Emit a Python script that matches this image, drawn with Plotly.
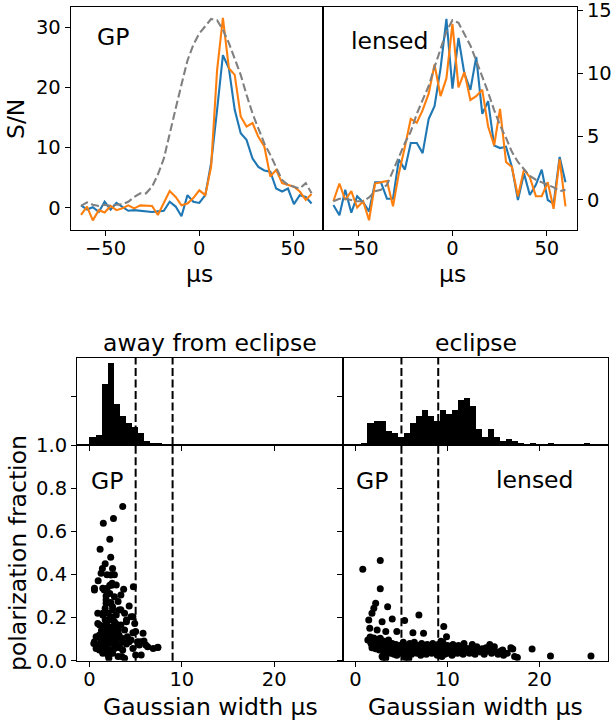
import plotly.graph_objects as go

# ---------------- data ----------------
t_us = [-63.1, -59.9, -56.8, -53.6, -50.5, -47.3, -44.2, -41.0, -37.9, -34.7,
        -31.5, -28.4, -25.2, -22.1, -18.9, -15.8, -12.6, -9.5, -6.3, -3.2,
        0.0, 3.2, 6.3, 9.5, 12.6, 15.8, 18.9, 22.1, 25.2, 28.4,
        31.5, 34.7, 37.9, 41.0, 44.2, 47.3, 50.5, 53.6, 56.8, 59.9]

gp_blue = [0.4, -0.3, 0.1, -0.7, 1.0, -0.3, 0.8, 0.2, -0.5, -0.4,
           -0.5, -0.6, -0.7, -0.6, -0.5, 1.0, 0.2, -1.4, 2.1, 1.0,
           0.8, 2.1, 7.4, 16.3, 25.4, 23.2, 16.3, 12.4, 11.3, 8.2,
           6.8, 6.2, 6.0, 3.2, 2.7, 3.2, 0.6, 2.1, 1.8, 0.7]
gp_orange = [-1.2, 0.2, -2.1, -0.4, -0.8, 0.3, -0.4, -0.1, 0.4, -0.1,
             0.4, 0.4, 0.3, -1.2, 0.7, 2.8, 1.8, 0.4, 0.7, 1.6,
             2.9, 2.1, 6.8, 22.9, 31.6, 23.2, 22.1, 15.2, 13.5, 14.1,
             11.8, 10.2, 5.2, 6.3, 4.1, 3.8, 3.5, 2.7, 1.3, 2.3]
gp_gray = [0.3, 0.9, 0.5, 0.3, 0.5, 0.3, 0.5, 0.6, 1.0, 1.8,
           2.4, 2.4, 3.5, 5.5, 8.2, 12.5, 16.5, 20.5, 24.5, 27.1,
           29.0, 30.2, 31.4, 31.2, 29.6, 27.4, 24.9, 22.1, 18.8, 15.7,
           13.2, 10.7, 8.8, 6.8, 4.6, 3.8, 3.5, 3.2, 4.1, 2.4]

lens_blue = [-0.4, -1.2, 0.8, -1.0, 0.3, -0.2, -0.9, 1.4, 1.4, 0.1,
             0.1, 3.2, 2.4, 4.5, 4.5, 3.7, 6.4, 7.4, 10.4, 14.3,
             8.8, 12.8, 10.0, 8.7, 11.3, 6.8, 7.8, 4.3, 4.1, 4.2,
             2.6, 0.0, 2.1, 0.4, 1.2, 2.4, 0.0, -0.3, 3.4, 1.4]
lens_orange = [-0.1, 1.3, 0.0, 0.7, -0.6, -0.1, -1.6, 1.3, 1.4, 1.5,
               -0.5, 2.1, 4.2, 6.4, 6.1, 7.1, 8.4, 10.7, 8.2, 9.6,
               13.9, 8.9, 10.1, 7.9, 8.2, 8.7, 5.8, 4.3, 7.2, 3.0,
               2.6, 0.3, 2.4, 1.8, 0.3, 0.3, 1.4, -0.7, 3.2, -0.5]
lens_gray = [-0.1, 0.1, 0.1, 0.0, -0.1, -0.1, 0.2, 0.7, 0.8, 1.2,
             2.3, 3.3, 4.5, 5.4, 6.8, 7.9, 9.0, 10.5, 11.9, 13.3,
             14.2, 14.0, 13.1, 12.2, 11.0, 9.8, 8.5, 7.1, 5.9, 4.9,
             3.8, 3.0, 2.4, 1.9, 1.6, 1.4, 1.2, 1.0, 0.7, 0.8]

bin_width = 0.655
hist_away = [4, 5, 31, 42, 21, 15, 11, 9, 6, 2, 1, 1, 0.5]
hist_eclipse = [0, 1, 11, 12, 12, 7, 6, 4, 6, 11, 15, 18, 15, 12, 18, 16, 18, 23,
                24, 20, 8, 4, 8, 4, 2, 3, 2, 1, 0, 1, 0, 0, 1, 0, 0, 0, 0, 0, 1]

away_width = [3.6, 1.5, 2.6, 2.2, 1.15, 2.3, 1.7, 1.4, 2.5, 1.9, 2.7, 0.94, 2.45, 2.9, 3.7,
              4.75, 0.54, 1.44, 1.9, 2.2, 2.7, 1.8, 2.3, 3.1, 4.3, 1.7, 2.5, 3.2, 0.9, 3.8,
              1.44, 2.9, 4.7, 4.0, 2.1, 2.7, 1.1, 1.7, 4.9, 3.4, 2.35, 1.44, 3.8, 2.9, 2.0,
              4.7, 5.8, 0.72, 2.5, 3.2, 4.1, 1.26, 1.8, 2.9, 3.6, 4.5, 5.2, 5.9, 0.47, 1.08,
              2.3, 3.2, 4.0, 5.4, 6.3, 6.9, 7.4, 0.72, 1.6, 2.7, 3.6, 4.7, 5.6, 2.0, 3.1,
              3.8, 2.1, 2.5, 1.44,
              1.26, 2.3, 0.54, 2.4, 1.6, 3.4, 1.8, 2.5, 3.4, 1.44, 2.3, 4.5, 4.0, 0.9,
              2.0, 3.1, 5.0, 1.08, 2.3, 3.5, 0.54, 1.8, 2.9, 4.3, 5.5, 6.1, 7.4, 1.08,
              2.3, 3.5, 5.0,
              1.6, 1.9, 2.2, 2.4, 2.6, 1.7, 2.0, 2.3, 2.8, 1.5, 2.1, 2.6, 3.0, 1.8, 2.2,
              2.0, 2.5, 1.3, 2.9, 3.3]
away_pol = [0.715, 0.637, 0.659, 0.563, 0.517, 0.48, 0.45, 0.428, 0.428, 0.398, 0.398, 0.371,
            0.359, 0.351, 0.331, 0.343, 0.328, 0.336, 0.336, 0.312, 0.297, 0.282, 0.266,
            0.274, 0.254, 0.243, 0.235, 0.235, 0.22, 0.22, 0.212, 0.212, 0.204, 0.189,
            0.189, 0.181, 0.166, 0.166, 0.173, 0.166, 0.15, 0.142, 0.142, 0.135, 0.127,
            0.13, 0.127, 0.111, 0.111, 0.119, 0.111, 0.096, 0.096, 0.096, 0.088, 0.096,
            0.088, 0.091, 0.08, 0.073, 0.08, 0.073, 0.077, 0.073, 0.065, 0.057, 0.062,
            0.057, 0.053, 0.057, 0.05, 0.057, 0.026, 0.026, 0.019, 0.011, 0.011, 0.034,
            0.034,
            0.405, 0.397, 0.336, 0.35, 0.328, 0.305, 0.266, 0.25, 0.236, 0.22, 0.204,
            0.204, 0.181, 0.173, 0.158, 0.142, 0.135, 0.119, 0.111, 0.104, 0.088, 0.073,
            0.073, 0.088, 0.088, 0.073, 0.061, 0.05, 0.034, 0.019, 0.027,
            0.12, 0.14, 0.10, 0.13, 0.16, 0.19, 0.22, 0.27, 0.06, 0.08, 0.05, 0.09, 0.12,
            0.30, 0.35, 0.16, 0.20, 0.14, 0.17, 0.06]

ecl_width = [0.8, 2.7, 2.7, 2.2, 2.0, 1.8, 3.5, 1.45, 2.9, 4.0, 5.35, 6.9, 1.56, 2.36, 3.3,
             4.5, 6.25, 7.4, 9.6, 1.35, 1.8, 2.7, 3.6, 9.9, 19.2, 21.2, 25.6, 17.1,
             1.5, 1.7, 1.9, 2.1, 2.3, 2.5, 2.7, 2.9, 3.1, 3.3, 3.5, 3.7, 3.9, 4.1, 4.3,
             1.6, 2.0, 2.4, 2.8, 3.2, 3.6, 4.0, 4.4, 1.8, 2.2, 2.6, 3.0, 3.4, 3.8, 4.2,
             2.9, 3.3, 4.5, 4.6, 3.0, 4.4, 5.4, 5.8,
             4.8, 5.0, 5.2, 5.3, 5.5, 5.6, 5.8, 5.9, 6.1, 6.2, 6.4, 6.5, 6.7, 6.8, 7.0,
             7.1, 7.2, 7.4, 7.5, 7.7, 7.8, 8.0, 8.1, 8.3, 8.4, 8.6, 8.7, 8.9, 9.0, 9.1,
             9.3, 9.4, 9.5, 9.7, 9.8, 10.0, 10.1, 10.2, 10.4, 10.5, 10.6, 10.8, 10.9,
             11.1, 11.2, 11.4, 11.5, 11.7, 11.8, 12.0, 5.1, 5.7, 6.3, 6.9, 7.6, 8.2, 8.8,
             9.2, 9.9, 10.3, 10.7, 11.3, 11.9, 4.9, 6.0, 7.3, 8.5, 9.6, 10.9, 12.1, 5.4,
             6.6, 7.9, 9.0, 10.0, 11.0, 5.2, 6.4, 7.7, 8.9, 9.4, 10.6, 11.6, 12.3,
             12.4, 12.6, 12.8, 13.0, 13.2, 13.4, 13.6, 13.8, 14.0, 14.2, 14.4, 14.6, 14.8,
             15.0, 15.3, 15.5, 15.8, 16.1, 16.5, 16.9, 17.3, 17.6, 13.1, 13.9, 14.5, 15.1,
             16.0, 12.7, 9.3]
ecl_pol = [0.424, 0.464, 0.333, 0.266, 0.243, 0.22, 0.25, 0.189, 0.181, 0.193, 0.186, 0.212,
           0.15, 0.142, 0.135, 0.135, 0.13, 0.127, 0.158, 0.096, 0.088, 0.104, 0.096,
           0.111, 0.054, 0.022, 0.022, 0.054,
           0.095, 0.08, 0.075, 0.09, 0.07, 0.085, 0.065, 0.08, 0.06, 0.075, 0.055, 0.07,
           0.05, 0.065, 0.045, 0.11, 0.105, 0.1, 0.095, 0.09, 0.085, 0.08, 0.075, 0.06,
           0.055, 0.05, 0.045, 0.04, 0.035, 0.03, 0.02, 0.012, 0.025, 0.06, 0.015, 0.031,
           0.015, 0.01,
           0.07, 0.04, 0.085, 0.055, 0.02, 0.07, 0.045, 0.08, 0.03, 0.06, 0.085, 0.05,
           0.035, 0.07, 0.055, 0.025, 0.08, 0.045, 0.065, 0.03, 0.075, 0.05, 0.06, 0.035,
           0.08, 0.045, 0.065, 0.025, 0.075, 0.05, 0.04, 0.06, 0.085, 0.03, 0.055, 0.07,
           0.04, 0.05, 0.065, 0.025, 0.075, 0.045, 0.06, 0.035, 0.07, 0.05, 0.06, 0.03,
           0.08, 0.045, 0.06, 0.035, 0.07, 0.04, 0.055, 0.07, 0.055, 0.03, 0.045, 0.055,
           0.035, 0.045, 0.06, 0.05, 0.055, 0.06, 0.06, 0.065, 0.05, 0.04, 0.065, 0.065,
           0.04, 0.045, 0.035, 0.065, 0.03, 0.04, 0.06, 0.065, 0.02, 0.05, 0.04, 0.055,
           0.035, 0.06, 0.045, 0.03, 0.065, 0.05, 0.04, 0.055, 0.03, 0.06, 0.045, 0.075,
           0.035, 0.05, 0.04, 0.03, 0.045, 0.025, 0.035, 0.06, 0.02, 0.015, 0.045, 0.04,
           0.055, 0.065, 0.05, 0.075, 0.09]

boundaries_us = [5, 9]

# ---------------- figure ----------------
W, H = 614, 722
FONT = "DejaVu Sans"
TICK = 19.5
LAB = 23.5
BLUE, ORANGE = "#1f77b4", "#ff7f0e"


def px(x):
    return x / W


def py(y):
    return 1 - y / H


fig = go.Figure()

# top panels
for xa, ya, b, o, g in [("x", "y", gp_blue, gp_orange, gp_gray),
                        ("x2", "y2", lens_blue, lens_orange, lens_gray)]:
    fig.add_trace(go.Scatter(x=t_us, y=b, mode="lines", line=dict(color=BLUE, width=2.1),
                             xaxis=xa, yaxis=ya, showlegend=False))
    fig.add_trace(go.Scatter(x=t_us, y=o, mode="lines", line=dict(color=ORANGE, width=2.1),
                             xaxis=xa, yaxis=ya, showlegend=False))
    fig.add_trace(go.Scatter(x=t_us, y=g, mode="lines",
                             line=dict(color="gray", width=2.1, dash="8px,3.5px"),
                             xaxis=xa, yaxis=ya, showlegend=False))

# histograms
for xa, ya, counts in [("x3", "y3", hist_away), ("x4", "y4", hist_eclipse)]:
    centers = [(i + 0.5) * bin_width for i in range(len(counts))]
    fig.add_trace(go.Bar(x=centers, y=counts, width=bin_width, marker=dict(color="black", line=dict(width=0)),
                         xaxis=xa, yaxis=ya, showlegend=False))

# scatters
for xa, ya, xs, ys in [("x5", "y5", away_width, away_pol), ("x6", "y6", ecl_width, ecl_pol)]:
    fig.add_trace(go.Scatter(x=xs, y=ys, mode="markers", marker=dict(color="black", size=7),
                             xaxis=xa, yaxis=ya, showlegend=False))

common = dict(showline=True, linecolor="black", linewidth=1.1, mirror=True,
              ticks="outside", ticklen=5, tickwidth=1.1, tickcolor="black", automargin=False,
              showgrid=False, zeroline=False, tickfont=dict(size=TICK, color="black"),
              ticklabeloverflow="allow")
xcommon = dict(common, ticklabelstandoff=-4)

top_y0, top_y1 = py(230), py(7)
bot_h0, bot_h1 = py(445), py(358)
bot_s0, bot_s1 = py(660.7), py(445)
xr_w = [-1.35, 27.45]

fig.update_layout(
    template="none",
    width=W, height=H, margin=dict(l=0, r=0, t=0, b=0, pad=0), autosize=False,
    paper_bgcolor="white", plot_bgcolor="white",
    font=dict(family=FONT, color="black"), bargap=0,
    xaxis=dict(domain=[px(70.7), px(323)], range=[-68.6, 66.0], tickvals=[-50, 0, 50], anchor="y", **xcommon),
    yaxis=dict(domain=[top_y0, top_y1], range=[-3.7, 33.4], tickvals=[0, 10, 20, 30], anchor="x", **common),
    xaxis2=dict(domain=[px(323), px(577)], range=[-68.6, 66.0], tickvals=[-50, 0, 50], anchor="y2", **xcommon),
    yaxis2=dict(domain=[top_y0, top_y1], range=[-2.37, 15.24], tickvals=[0, 5, 10, 15], side="right",
                anchor="x2", **common),
    xaxis3=dict(domain=[px(77), px(343)], range=xr_w, tickvals=[0, 10, 20], showticklabels=False,
                anchor="y3", **common),
    yaxis3=dict(domain=[bot_h0, bot_h1], range=[0, 44.4], tickvals=[0, 25], showticklabels=False,
                anchor="x3", **common),
    xaxis4=dict(domain=[px(343), px(608)], range=xr_w, tickvals=[0, 10, 20], showticklabels=False,
                anchor="y4", **common),
    yaxis4=dict(domain=[bot_h0, bot_h1], range=[0, 44.4], tickvals=[0, 25], showticklabels=False,
                anchor="x4", **common),
    xaxis5=dict(domain=[px(77), px(343)], range=xr_w, tickvals=[0, 10, 20], anchor="y5", **xcommon),
    yaxis5=dict(domain=[bot_s0, bot_s1], range=[0, 1.0], tickvals=[0, 0.2, 0.4, 0.6, 0.8, 1.0],
                tickformat=".1f", anchor="x5", **common),
    xaxis6=dict(domain=[px(343), px(608)], range=xr_w, tickvals=[0, 10, 20], anchor="y6", **xcommon),
    yaxis6=dict(domain=[bot_s0, bot_s1], range=[0, 1.0], tickvals=[0, 0.2, 0.4, 0.6, 0.8, 1.0],
                showticklabels=False, anchor="x6", **common),
)

# dashed boundary lines
shapes = []
for xa, ya in [("x3", "y3"), ("x4", "y4"), ("x5", "y5"), ("x6", "y6")]:
    for b in boundaries_us:
        shapes.append(dict(type="line", xref=xa, yref=f"{ya} domain", x0=b, x1=b, y0=0, y1=1,
                           line=dict(color="black", width=2, dash="8px,3.5px")))
fig.update_layout(shapes=shapes)

ann = []


def text(x, y, s, size=LAB, xanchor="left", angle=0):
    ann.append(dict(x=px(x), y=py(y), xref="paper", yref="paper", text=s, showarrow=False,
                    xanchor=xanchor, yanchor="middle", textangle=angle,
                    font=dict(size=size, family=FONT, color="black")))


text(95, 37, "GP")
text(349, 41, "lensed")
text(89, 481, "GP")
text(354, 481, "GP")
text(494, 480, "lensed")
text(210, 343, "away from eclipse", xanchor="center")
text(475.5, 343, "eclipse", xanchor="center")
text(16, 119, "S/N", xanchor="center", angle=-90)
text(18, 553, "polarization fraction", xanchor="center", angle=-90)
text(199, 274, "μs", xanchor="center")
text(452, 274, "μs", xanchor="center")
text(210, 707, "Gaussian width μs", xanchor="center")
text(475.5, 707, "Gaussian width μs", xanchor="center")
fig.update_layout(annotations=ann)

fig.write_html("out.html")
